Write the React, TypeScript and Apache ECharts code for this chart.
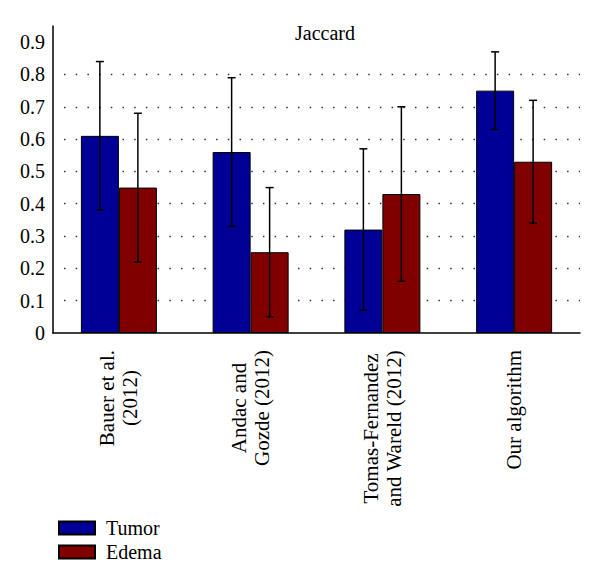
import React, { useEffect, useRef } from "react";
import * as echarts from "echarts";

const categories = [
  "Bauer et al.\n(2012)",
  "Andac and\nGozde (2012)",
  "Tomas-Fernandez\nand Wareld (2012)",
  "Our algorithm",
];
const seriesNames = ["Tumor", "Edema"];
const tumorValues = [0.61, 0.56, 0.32, 0.75];
const edemaValues = [0.45, 0.25, 0.43, 0.53];
const tumorErrLow = [0.38, 0.33, 0.07, 0.63];
const tumorErrHigh = [0.84, 0.79, 0.57, 0.87];
const edemaErrLow = [0.22, 0.05, 0.16, 0.34];
const edemaErrHigh = [0.68, 0.45, 0.7, 0.72];
const gridLevels = [0.1, 0.2, 0.3, 0.4, 0.5, 0.6, 0.7, 0.8];

const FONT = "Liberation Serif";
const BAR_W = 38;
const TUMOR_COLOR = "#000096";
const EDEMA_COLOR = "#800000";

function errSeries(name: string, low: number[], high: number[], offset: number) {
  return {
    type: "custom",
    name,
    z: 5,
    silent: true,
    encode: { x: 0, y: [1, 2] },
    data: low.map((lo, i) => [i, lo, high[i]]),
    renderItem: (params: any, api: any) => {
      const cat = api.value(0);
      const pLo = api.coord([cat, api.value(1)]);
      const pHi = api.coord([cat, api.value(2)]);
      const x = pLo[0] + offset;
      const cap = 4;
      const st = { stroke: "#000", lineWidth: 1.5 };
      return {
        type: "group",
        children: [
          { type: "line", shape: { x1: x, y1: pHi[1], x2: x, y2: pLo[1] }, style: st },
          { type: "line", shape: { x1: x - cap, y1: pHi[1], x2: x + cap, y2: pHi[1] }, style: st },
          { type: "line", shape: { x1: x - cap, y1: pLo[1], x2: x + cap, y2: pLo[1] }, style: st },
        ],
      };
    },
  };
}

export default function App() {
  const ref = useRef<HTMLDivElement>(null);
  useEffect(() => {
    const chart = echarts.init(ref.current!, null, { renderer: "svg" });
    const option: any = {
      animation: false,
      backgroundColor: "#fff",
      textStyle: { fontFamily: FONT },
      title: {
        text: "Jaccard",
        left: 290,
        top: 18,
        textStyle: { fontFamily: FONT, fontSize: 20, fontWeight: "normal", color: "#000" },
      },
      legend: {
        data: seriesNames,
        orient: "vertical",
        left: 53,
        top: 513,
        itemWidth: 36,
        itemHeight: 13,
        itemGap: 4,
        icon: "rect",
        textStyle: { fontFamily: FONT, fontSize: 20, color: "#000", padding: [0, 0, 0, 6] },
      },
      grid: { left: 53, top: 26, right: 20, bottom: 254, containLabel: false },
      xAxis: {
        type: "category",
        data: categories,
        axisLine: { lineStyle: { color: "#000", width: 1.5 } },
        axisTick: { show: false },
        axisLabel: {
          interval: 0,
          rotate: 90,
          margin: 17,
          fontFamily: FONT,
          formatter: (v: string) => v.split("\n").map((l) => `{c|${l}}`).join("\n"),
          rich: {
            c: { align: "center", fontFamily: FONT, fontSize: 21, lineHeight: 23, color: "#000" },
          },
        },
      },
      yAxis: {
        type: "value",
        min: 0,
        max: 0.95,
        interval: 0.1,
        axisLine: { show: true, lineStyle: { color: "#000", width: 1.5 } },
        axisTick: { show: false },
        splitLine: { show: false },
        axisLabel: {
          showMaxLabel: false,
          margin: 8,
          fontFamily: FONT,
          fontSize: 20,
          color: "#000",
        },
      },
      series: [
        {
          type: "bar",
          name: seriesNames[0],
          data: tumorValues,
          barWidth: BAR_W,
          barGap: "0%",
          z: 2,
          itemStyle: { color: TUMOR_COLOR, borderColor: "#000", borderWidth: 1 },
          markLine: {
            silent: true,
            z: 1,
            symbol: ["none", "none"],
            label: { show: false },
            emphasis: { disabled: true },
            lineStyle: { type: [1.5, 10.2], color: "#333", width: 1.3, dashOffset: -11 },
            data: gridLevels.map((v) => ({ yAxis: v })),
          },
        },
        {
          type: "bar",
          name: seriesNames[1],
          data: edemaValues,
          barWidth: BAR_W,
          barGap: "0%",
          z: 2,
          itemStyle: { color: EDEMA_COLOR, borderColor: "#000", borderWidth: 1 },
        },
        errSeries("Tumor error", tumorErrLow, tumorErrHigh, -BAR_W / 2),
        errSeries("Edema error", edemaErrLow, edemaErrHigh, BAR_W / 2),
      ],
    };
    chart.setOption(option);
    return () => chart.dispose();
  }, []);
  return (
    <div
      ref={ref}
      style={{ position: "fixed", left: 0, top: 0, width: 600, height: 587, background: "#fff" }}
    />
  );
}
